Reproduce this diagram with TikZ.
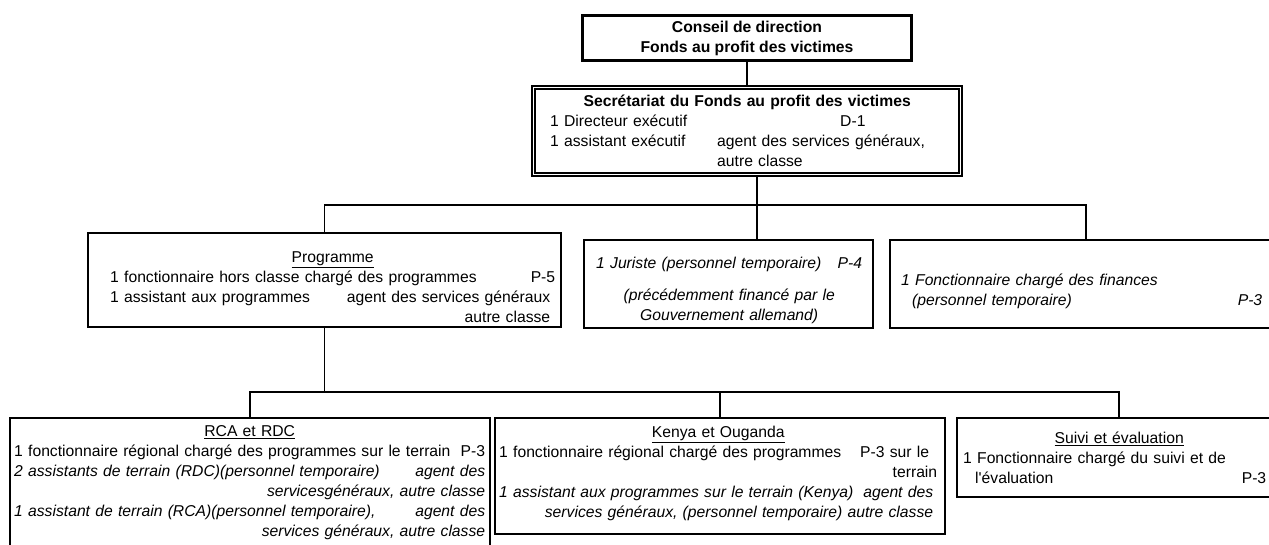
\documentclass[tikz,border=0pt]{standalone}
\usepackage{fontspec}
\setmainfont{Liberation Sans}
\usepackage{tikz}

\newcommand{\orgfont}{\fontsize{15.7pt}{20pt}\selectfont}
\newcommand{\lr}[2]{\makebox[\linewidth]{#1\hfill #2}}
\newcommand{\rt}[1]{\makebox[\linewidth][r]{#1}}
\newcommand{\ctr}[1]{\makebox[\linewidth]{#1}}
\newcommand{\colto}[2]{\makebox[#1][l]{#2}}

\begin{document}
\begin{tikzpicture}[x=1pt, y=-1pt,
		boardbox/.style={draw, line width=2.8pt, minimum width=329pt, minimum height=45pt,
			align=center, font=\orgfont\bfseries, inner sep=0pt},
		secbox/.style={draw, double, line width=1.5pt, double distance=1.6pt, inner sep=0pt},
		unitbox/.style={draw, line width=1.8pt, inner sep=0pt},
		fieldbox/.style={draw, line width=1.1pt, inner sep=0pt},
		txt/.style={anchor=north west, inner sep=0pt, align=left, font=\orgfont},
		link/.style={line width=1.6pt}
		]
		\useasboundingbox (0,0) rectangle (1269,545);
		\clip (0,0) rectangle (1269,545);
		
		\node[boardbox] (cons) at (747,38) {Conseil de direction\\Fonds au profit des victimes};
		\node[secbox, minimum width=427pt, minimum height=87pt] (sec) at (747,131) {};
		\node[txt, text width=394pt] (sec-txt) at (550,92) {\strut\ctr{\bfseries Secrétariat du Fonds au profit des victimes}\\
			\colto{290pt}{1 Directeur exécutif}D-1\\
			\colto{167pt}{1 assistant exécutif}agent des services généraux,\\
			\hspace*{167pt}autre classe};
		
		\node[unitbox, minimum width=473pt, minimum height=94pt] (prog) at (324.5,280) {};
		\node[txt, text width=445pt] (prog-txt) at (110,248) {\strut\ctr{\underline{Programme}}\\
			\lr{1 fonctionnaire hors classe chargé des programmes}{P-5}\\
			\lr{1 assistant aux programmes}{agent des services généraux\hspace*{5pt}}\\
			\rt{autre classe\hspace*{5pt}}};
		
		\node[unitbox, minimum width=289pt, minimum height=88pt] (jur) at (728.5,284) {};
		\node[txt, text width=266pt, font=\orgfont\itshape] (jur-txt) at (596,254) {\strut\lr{1 Juriste (personnel temporaire)}{P-4}\\[12pt]
			\ctr{(précédemment financé par le}\\
			\ctr{Gouvernement allemand)}};
		
		\node[unitbox, minimum width=392pt, minimum height=88pt] (fin) at (1086,284) {};
		\node[txt, text width=361pt, font=\orgfont\itshape] (fin-txt) at (901,271) {\strut 1 Fonctionnaire chargé des finances\\
			\lr{\hspace*{11pt}(personnel temporaire)}{P-3}};
		
		\node[fieldbox, minimum width=480pt, minimum height=134pt] (rca) at (250,485) {};
		\node[txt, text width=471pt] (rca-txt) at (14,422) {\strut\ctr{\underline{RCA et RDC}}\\
			\lr{1 fonctionnaire régional chargé des programmes sur le terrain}{P-3}\\ \itshape
			\lr{2 assistants de terrain (RDC)(personnel temporaire)}{agent des}\\
			\rt{servicesgénéraux, autre classe}\\
			\lr{1 assistant de terrain (RCA)(personnel temporaire),}{agent des}\\
			\rt{services généraux, autre classe}};
		
		\node[fieldbox, minimum width=450pt, minimum height=116pt] (ken) at (720,476) {};
		\node[txt, text width=438pt] (ken-txt) at (499,423) {\strut\ctr{\underline{Kenya et Ouganda}}\\
			\lr{1 fonctionnaire régional chargé des programmes}{P-3 sur le\hspace*{8pt}}\\
			\rt{terrain}\\ \itshape
			\lr{1 assistant aux programmes sur le terrain (Kenya)}{agent des\hspace*{4pt}}\\
			\rt{services généraux, (personnel temporaire) autre classe\hspace*{4pt}}};
		
		\node[fieldbox, minimum width=324pt, minimum height=79pt] (suivi) at (1119,457.5) {};
		\node[txt, text width=312pt] (suivi-txt) at (963,429) {\strut\ctr{\underline{Suivi et évaluation}}\\
			1 Fonctionnaire chargé du suivi et de\\
			\lr{\hspace*{12pt}l\textquotesingle évaluation}{P-3\hspace*{9pt}}};
		
		\coordinate (bus1) at (757,205);
		\coordinate (bus2) at (720,392);
		\draw[link] (cons) -- (sec);
		\draw[link] ([xshift=10pt]sec.south) -- ([xshift=10pt]sec.south |- jur.north);
		\draw[link] (prog.north) |- (bus1) -| (fin.north);
		\draw[link] (prog.south) -- (prog.south |- bus2);
		\draw[link] (rca.north) |- (bus2) -| (suivi.north);
		\draw[link] (ken.north) -- (ken.north |- bus2);
	\end{tikzpicture}
\end{document}
